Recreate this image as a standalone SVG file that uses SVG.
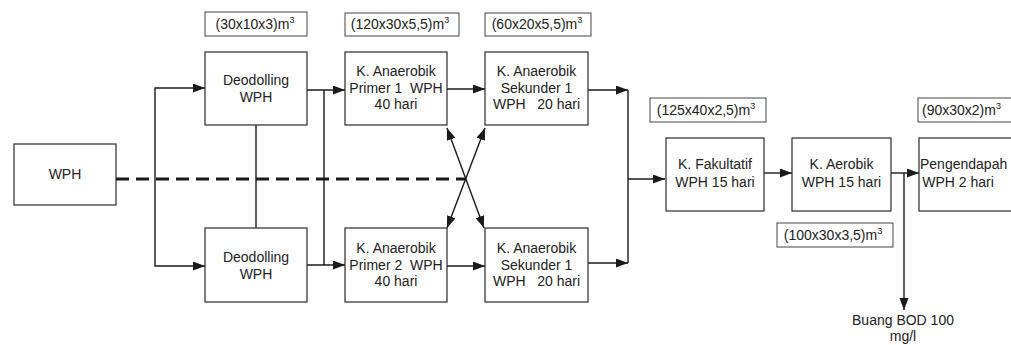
<svg xmlns="http://www.w3.org/2000/svg" width="1011" height="345" viewBox="0 0 1011 345">
<style>
text{font-family:"Liberation Sans",Arial,sans-serif;font-size:14px;fill:#222;text-anchor:middle;white-space:pre}
.box{fill:#fff;stroke:#2a2a2a;stroke-width:1.2}
.lbl{fill:#fff;stroke:#444;stroke-width:1}
.c{fill:none;stroke:#1a1a1a;stroke-width:1.4}
.a{marker-end:url(#ah)}
.dash{fill:none;stroke:#1a1a1a;stroke-width:3;stroke-dasharray:13 7}
.sup{font-size:9px}
</style>
<defs>
<marker id="ah" markerUnits="userSpaceOnUse" markerWidth="13" markerHeight="10" refX="12" refY="4.5" orient="auto-start-reverse">
<path d="M0,0 L12,4.5 L0,9 z" fill="#1a1a1a"/>
</marker>
</defs>
<rect width="1011" height="345" fill="#fff"/>

<g id="connectors">
<path class="dash" d="M116,179 H466"/>
<path class="c a" d="M155,179 V88 H205"/>
<path class="c a" d="M155,179 V266 H205"/>
<path class="c" d="M256,125 V228"/>
<path class="c a" d="M307,90 H345"/>
<path class="c a" d="M307,265 H345"/>
<path class="c" d="M324,90 V265"/>
<path class="c a" d="M447,89 H485"/>
<path class="c a" d="M447,266 H485"/>
<path class="c a" d="M588,90 H628"/>
<path class="c a" d="M588,263 H628"/>
<path class="c" d="M628,90 V263"/>
<path class="c a" d="M628,179 H665"/>
<path class="c a" d="M447,128 L484,228" style="marker-start:url(#ah)"/>
<path class="c a" d="M485,128 L447,228" style="marker-start:url(#ah)"/>
<path class="c a" d="M764,173 H792"/>
<path class="c a" d="M891,173 H919"/>
<path class="c a" d="M904,173 V310"/>
</g>

<g id="wph">
<rect class="box" x="14" y="144" width="102" height="61"/>
<text x="65" y="179">WPH</text>
</g>

<g id="deodolling1">
<rect class="lbl" x="205" y="12" width="102" height="24"/>
<text x="255" y="29">(30x10x3)m<tspan class="sup" dy="-6">3</tspan></text>
<rect class="box" x="205" y="52" width="102" height="73"/>
<text x="256" y="85">Deodolling</text>
<text x="256" y="102">WPH</text>
</g>

<g id="deodolling2">
<rect class="box" x="205" y="228" width="102" height="74"/>
<text x="256" y="262">Deodolling</text>
<text x="256" y="279">WPH</text>
</g>

<g id="primer1">
<rect class="lbl" x="345" y="13" width="114" height="23"/>
<text x="400" y="29">(120x30x5,5)m<tspan class="sup" dy="-6">3</tspan></text>
<rect class="box" x="345" y="52" width="102" height="73"/>
<text x="396" y="76">K. Anaerobik</text>
<text x="396" y="93">Primer 1  WPH</text>
<text x="396" y="109">40 hari</text>
</g>

<g id="sekunder1">
<rect class="lbl" x="485" y="13" width="106" height="23"/>
<text x="537" y="29">(60x20x5,5)m<tspan class="sup" dy="-6">3</tspan></text>
<rect class="box" x="485" y="52" width="103" height="73"/>
<text x="536.5" y="76">K. Anaerobik</text>
<text x="536.5" y="93">Sekunder 1</text>
<text x="536.5" y="109">WPH   20 hari</text>
</g>

<g id="primer2">
<rect class="box" x="345" y="228" width="102" height="74"/>
<text x="396" y="253">K. Anaerobik</text>
<text x="396" y="270">Primer 2  WPH</text>
<text x="396" y="286">40 hari</text>
</g>

<g id="sekunder2">
<rect class="box" x="485" y="228" width="103" height="74"/>
<text x="536.5" y="253">K. Anaerobik</text>
<text x="536.5" y="270">Sekunder 1</text>
<text x="536.5" y="286">WPH   20 hari</text>
</g>

<g id="fakultatif">
<rect class="lbl" x="650" y="98" width="116" height="24"/>
<text x="706" y="115">(125x40x2,5)m<tspan class="sup" dy="-6">3</tspan></text>
<rect class="box" x="666" y="138" width="98" height="73"/>
<text x="715" y="169">K. Fakultatif</text>
<text x="715" y="187">WPH 15 hari</text>
</g>

<g id="aerobik">
<rect class="box" x="792" y="138" width="99" height="73"/>
<text x="841.5" y="169">K. Aerobik</text>
<text x="841.5" y="187">WPH 15 hari</text>
<rect class="lbl" x="777" y="223" width="116" height="24"/>
<text x="833" y="240">(100x30x3,5)m<tspan class="sup" dy="-6">3</tspan></text>
</g>

<g id="pengendapah">
<rect class="lbl" x="918" y="98" width="100" height="24"/>
<text x="922" y="115" style="text-anchor:start">(90x30x2)m<tspan class="sup" dy="-6">3</tspan></text>
<rect class="box" x="919" y="138" width="100" height="73"/>
<text x="920" y="169" style="text-anchor:start">Pengendapah</text>
<text x="958" y="187">WPH 2 hari</text>
</g>

<g id="buang">
<text x="903" y="325">Buang BOD 100</text>
<text x="903" y="341">mg/l</text>
</g>
</svg>
